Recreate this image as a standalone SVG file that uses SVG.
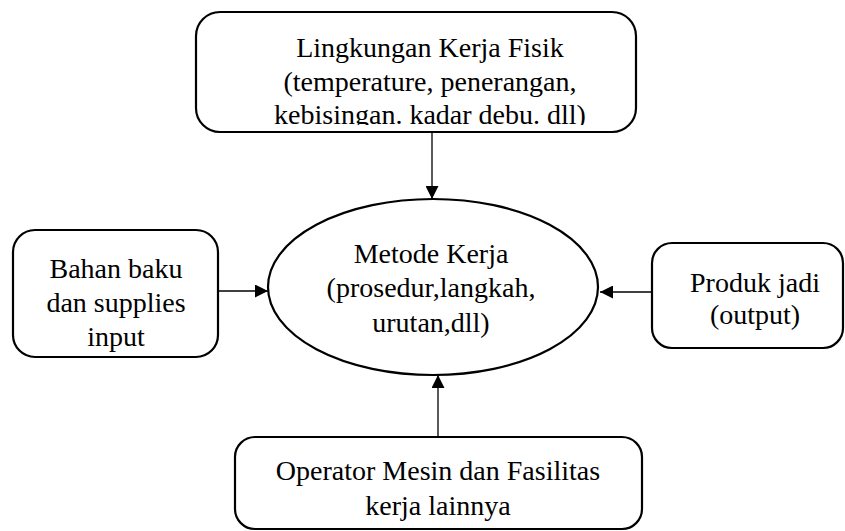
<svg xmlns="http://www.w3.org/2000/svg" width="845" height="531" viewBox="0 0 845 531">
<style>
.box{fill:#fff;stroke:#000;stroke-width:2.2}
.t{font-family:"Liberation Serif","Times New Roman",serif;font-size:28px;fill:#000;text-anchor:middle}
.c{stroke:#000;stroke-width:1.3;fill:none;marker-end:url(#ah)}
</style>
<defs>
<marker id="ah" viewBox="0 0 10 10" refX="10" refY="5" markerWidth="14" markerHeight="13" markerUnits="userSpaceOnUse" orient="auto">
<path d="M0,0 L10,5 L0,10 Z" fill="#000"/>
</marker>
<clipPath id="clipTop"><rect x="196" y="12" width="440" height="113"/></clipPath>
</defs>
<rect width="845" height="531" fill="#fff"/>
<g id="connectors">
<line class="c" x1="432" y1="132" x2="432" y2="199"/>
<line class="c" x1="218" y1="291" x2="268" y2="291"/>
<line class="c" x1="652" y1="292" x2="600" y2="292"/>
<line class="c" x1="438" y1="437" x2="438" y2="375"/>
</g>
<g id="n-lingkungan">
<rect class="box" x="196" y="12" width="440" height="120" rx="24"/>
<g clip-path="url(#clipTop)">
<text class="t" x="430" y="57">Lingkungan Kerja Fisik</text>
<text class="t" x="430" y="91">(temperature, penerangan,</text>
<text class="t" x="430" y="124">kebisingan. kadar debu. dll)</text>
</g>
</g>
<g id="n-metode">
<ellipse class="box" cx="433" cy="287" rx="165" ry="88"/>
<text class="t" x="431" y="263">Metode Kerja</text>
<text class="t" x="431" y="297">(prosedur,langkah,</text>
<text class="t" x="431" y="332">urutan,dll)</text>
</g>
<g id="n-bahan">
<rect class="box" x="13" y="230" width="205" height="127" rx="22"/>
<text class="t" x="116" y="278">Bahan baku</text>
<text class="t" x="116" y="312">dan supplies</text>
<text class="t" x="116" y="346">input</text>
</g>
<g id="n-produk">
<rect class="box" x="652" y="243" width="191" height="105" rx="20"/>
<text class="t" x="755" y="292">Produk jadi</text>
<text class="t" x="755" y="324">(output)</text>
</g>
<g id="n-operator">
<rect class="box" x="235" y="437" width="407" height="92" rx="20"/>
<text class="t" x="438" y="480">Operator Mesin dan Fasilitas</text>
<text class="t" x="438" y="515">kerja lainnya</text>
</g>
</svg>
